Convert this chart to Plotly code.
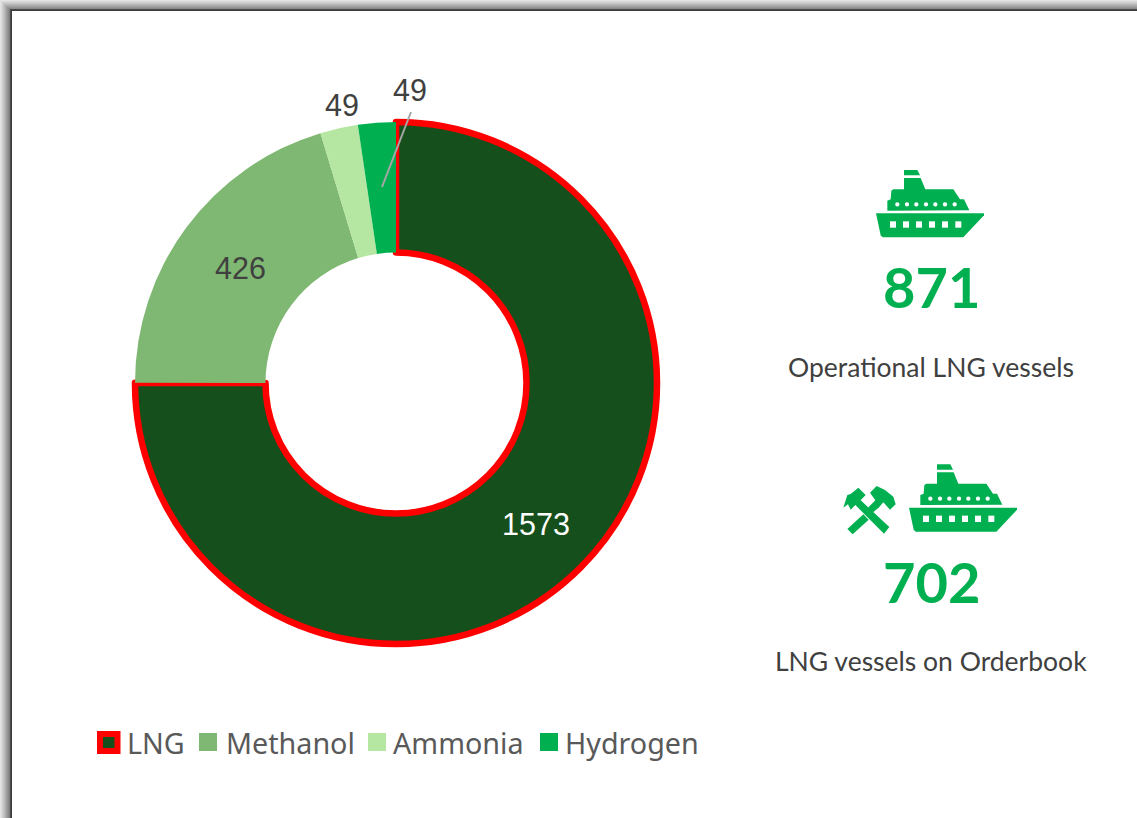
import plotly.graph_objects as go

categories = ["LNG", "Methanol", "Ammonia", "Hydrogen"]
values = [1573, 426, 49, 49]
slice_colors = ["#154F1C", "#7FB872", "#B5E6A2", "#00B050"]
line_colors = ["#FF0000", "rgba(0,0,0,0)", "rgba(0,0,0,0)", "rgba(0,0,0,0)"]
line_widths = [6.5, 0, 0, 0]

kpi_values = ["871", "702"]
kpi_labels = ["Operational LNG vessels", "LNG vessels on Orderbook"]

W, H = 1137, 818
GREEN = "#00B050"
NUM_FONT = "Liberation Sans"
TXT_FONT = "Lato"
LEG_FONT = "Noto Sans"


def px(x):
    return x / W


def py(y):
    return 1 - y / H


def poly(points, fill, layer="above"):
    d = "M " + " L ".join(f"{px(x):.5f},{py(y):.5f}" for x, y in points) + " Z"
    return dict(type="path", xref="paper", yref="paper", path=d,
                fillcolor=fill, line=dict(width=0), layer=layer)


def box(x0, y0, x1, y1, fill, layer="above"):
    return dict(type="rect", xref="paper", yref="paper", x0=px(x0), x1=px(x1),
                y0=py(y0), y1=py(y1), fillcolor=fill, line=dict(width=0), layer=layer)


def ship(ox, oy):
    """Icon outline, traced in a 3x crop of the picture."""
    m = lambda pts: [(ox + a / 3, oy + b / 3) for a, b in pts]
    out = [
        poly(m([(108, 160), (432, 160), (432, 166), (370, 232), (128, 232), (122, 226)]), GREEN),
        poly(m([(142, 152), (142, 122), (152, 118), (154, 92), (160, 88), (192, 88), (192, 54),
                (242, 54), (256, 88), (340, 88), (360, 118), (372, 118), (388, 151)]), GREEN),
        poly(m([(192, 30), (232, 30), (240, 46), (192, 46)]), GREEN),
    ]
    for a in (150, 189, 228, 267, 306, 346):
        out.append(box(ox + a / 3, oy + 184 / 3, ox + (a + 18) / 3, oy + 203 / 3, "#FFFFFF"))
    for a in (172, 201, 229, 258, 286, 315, 344):
        r = 6.5
        out.append(dict(type="circle", xref="paper", yref="paper",
                        x0=px(ox + (a - r) / 3), x1=px(ox + (a + r) / 3),
                        y0=py(oy + (133 - r) / 3), y1=py(oy + (133 + r) / 3),
                        fillcolor="#FFFFFF", line=dict(width=0), layer="above"))
    return out


def hammers(ox, oy):
    m = lambda pts: [(ox + a / 3, oy + b / 3) for a, b in pts]
    return [
        poly(m([(40, 158), (52, 120), (62, 117), (85, 98), (107, 120), (92, 136), (178, 216),
                (162, 236), (76, 150), (62, 164), (54, 148)]), GREEN),
        poly(m([(120, 113), (140, 93), (165, 105), (190, 125), (197, 148), (180, 164), (160, 142),
                (146, 158), (124, 176), (114, 158), (136, 136)]), GREEN),
        poly(m([(52, 222), (100, 178), (116, 194), (68, 238)]), GREEN),
    ]


CX, CY, R = 396, 383, 261
fig = go.Figure(go.Pie(
    labels=categories, values=values, sort=False, direction="clockwise", rotation=0,
    hole=0.5, showlegend=False, textinfo="none",
    domain=dict(x=[px(CX - R), px(CX + R)], y=[py(CY + R), py(CY - R)]),
    marker=dict(colors=slice_colors, line=dict(color=line_colors, width=line_widths)),
    hoverinfo="label+value",
))

shapes = []
shadow = ["#E4E4E4", "#DADADA", "#D0D0D0", "#C5C5C5", "#BABABA", "#AEAEAE", "#A2A2A2", "#969696", "#8A8A8A",
          "#7E7E7E", "#4A4A4A", "#3C3C3C"]
for i, c in enumerate(shadow):
    shapes.append(box(i, i if i < 10 else i - 1, W + 5, H + 5, c, layer="below"))
shapes.append(box(12, 11, W + 5, H + 5, "#FFFFFF", layer="below"))

shapes.append(dict(type="line", xref="paper", yref="paper", x0=px(411), y0=py(112), x1=px(382), y1=py(187),
                   line=dict(color="#A6A6A6", width=2), layer="above"))

shapes += ship(840, 160) + ship(873, 454.3) + hammers(830, 455)

shapes.append(dict(type="rect", xref="paper", yref="paper", x0=px(100), x1=px(117.5), y0=py(734), y1=py(751),
                   fillcolor=slice_colors[0], line=dict(color="#FF0000", width=6), layer="above"))
shapes.append(box(199, 733, 217, 751, slice_colors[1]))
shapes.append(box(368, 733, 386, 751, slice_colors[2]))
shapes.append(box(540, 733, 558, 751, slice_colors[3]))


def label(x, y, text, size, color, family, anchor="center", bold=False):
    return dict(xref="paper", yref="paper", x=px(x), y=py(y), text=f"<b>{text}</b>" if bold else text,
                showarrow=False, xanchor=anchor, yanchor="middle",
                font=dict(family=family, size=size, color=color))


annotations = [
    label(536, 524, str(values[0]), 30.5, "#FFFFFF", NUM_FONT),
    label(240, 268, str(values[1]), 30.5, "#404040", NUM_FONT),
    label(342, 105, str(values[2]), 30.5, "#404040", NUM_FONT),
    label(410, 90, str(values[3]), 30.5, "#404040", NUM_FONT),
    label(931, 287, kpi_values[0], 56, GREEN, TXT_FONT, bold=True),
    label(931, 581, kpi_values[1], 56, GREEN, TXT_FONT, bold=True),
    label(931, 367, kpi_labels[0], 26.5, "#404040", TXT_FONT),
    label(931, 661, kpi_labels[1], 26.5, "#404040", TXT_FONT),
]
for x, name in zip((125, 224, 391, 563), categories):
    annotations.append(label(x, 742, name, 28.7, "#595959", LEG_FONT, anchor="left"))

fig.update_layout(
    width=W, height=H, margin=dict(l=0, r=0, t=0, b=0), paper_bgcolor="#FFFFFF",
    shapes=shapes, annotations=annotations,
)
fig.write_html("out.html", config=dict(displayModeBar=False),
               post_script="document.body.style.margin='0';document.body.style.overflow='hidden';")
